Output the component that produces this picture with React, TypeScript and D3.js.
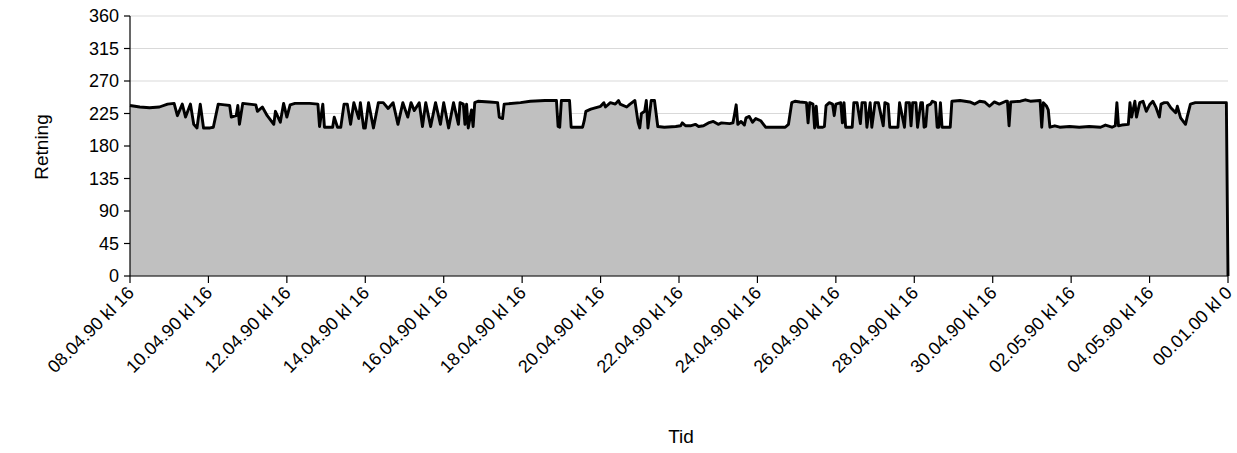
import React from 'react';
import * as d3 from 'd3';

// hours since 08.04.90 kl 16
const hours = [0, 6, 12, 18, 23, 27, 29, 32, 34, 37, 39, 41, 43, 45, 49, 51, 54, 58, 61, 62, 65, 66, 67, 69, 77, 78, 81, 84, 88, 89, 92, 94, 96, 98, 101, 110, 115, 116, 118, 119, 124, 125, 127, 129, 131, 133, 135, 137, 140, 141, 143, 144, 146, 149, 152, 155, 158, 161, 164, 167, 170, 172, 174, 177, 179, 181, 184, 187, 190, 192, 195, 198, 201, 202, 204, 205, 206, 207, 209, 210, 211, 213, 220, 225, 226, 228, 229, 239, 245, 254, 261, 262, 263, 264, 269, 270, 277, 278, 279, 282, 288, 290, 291, 294, 297, 299, 300, 304, 306, 309, 311, 312, 313, 315, 316, 317, 319, 321, 323, 327, 334, 337, 338, 340, 343, 346, 348, 351, 354, 357, 360, 362, 367, 369, 370, 371, 372, 374, 376, 377, 379, 381, 383, 386, 387, 389, 395, 401, 403, 405, 407, 410, 414, 415, 416, 418, 419, 420, 421, 424, 425, 426, 428, 430, 431, 432, 435, 436, 437, 438, 442, 443, 445, 447, 448, 450, 451, 453, 454, 456, 458, 461, 462, 464, 465, 470, 471, 474, 475, 477, 478, 479, 481, 482, 484, 485, 486, 487, 488, 490, 491, 493, 494, 495, 496, 497, 502, 503, 508, 514, 517, 520, 523, 526, 529, 532, 536, 537, 538, 539, 545, 548, 551, 557, 558, 559, 561, 562, 563, 566, 569, 575, 581, 587, 594, 597, 601, 603, 604, 605, 607, 611, 612, 613, 615, 616, 618, 620, 622, 624, 626, 628, 630, 631, 633, 635, 637, 640, 641, 643, 646, 647, 649, 652, 658, 664, 670, 671, 672];

const retning = [236, 234, 233, 234, 238, 239, 222, 238, 220, 238, 210, 205, 238, 205, 205, 206, 238, 237, 236, 220, 222, 236, 210, 239, 237, 228, 234, 222, 210, 228, 213, 239, 220, 237, 239, 239, 238, 207, 238, 206, 206, 220, 206, 206, 238, 238, 210, 240, 218, 240, 205, 205, 240, 205, 240, 240, 232, 240, 210, 240, 220, 240, 229, 240, 207, 240, 207, 240, 210, 240, 205, 240, 210, 240, 238, 210, 238, 205, 230, 207, 240, 242, 241, 240, 220, 218, 238, 240, 242, 243, 243, 207, 206, 243, 243, 206, 206, 215, 228, 231, 235, 240, 234, 240, 238, 243, 238, 234, 238, 243, 212, 205, 225, 228, 243, 205, 243, 243, 207, 206, 207, 208, 212, 208, 208, 210, 207, 208, 212, 214, 210, 212, 211, 212, 224, 237, 210, 214, 209, 219, 221, 213, 218, 215, 212, 206, 206, 206, 210, 240, 242, 241, 240, 212, 240, 238, 205, 235, 206, 206, 207, 236, 240, 238, 222, 238, 240, 212, 240, 206, 206, 240, 240, 211, 240, 240, 206, 240, 206, 240, 240, 208, 240, 238, 206, 206, 240, 206, 240, 240, 208, 240, 240, 206, 240, 240, 206, 207, 236, 238, 242, 240, 206, 206, 240, 206, 206, 242, 243, 241, 238, 242, 241, 235, 241, 238, 242, 242, 208, 241, 242, 244, 242, 243, 206, 240, 235, 230, 206, 208, 206, 207, 206, 207, 206, 209, 206, 208, 240, 208, 209, 210, 240, 220, 242, 220, 240, 242, 228, 237, 242, 233, 220, 238, 240, 240, 233, 226, 235, 219, 210, 220, 238, 240, 240, 240, 240, 240, 0];

const yTicks = [0, 45, 90, 135, 180, 225, 270, 315, 360];
const xTickHours = [0, 48, 96, 144, 192, 240, 288, 336, 384, 432, 480, 528, 576, 624, 672];
const xTickLabels = [
  '08.04.90 kl 16', '10.04.90 kl 16', '12.04.90 kl 16', '14.04.90 kl 16', '16.04.90 kl 16',
  '18.04.90 kl 16', '20.04.90 kl 16', '22.04.90 kl 16', '24.04.90 kl 16', '26.04.90 kl 16',
  '28.04.90 kl 16', '30.04.90 kl 16', '02.05.90 kl 16', '04.05.90 kl 16', '00.01.00 kl 0',
];

const FONT = 'Liberation Sans, Arial, sans-serif';
const FS = 18;
const TITLE_FS = 19;

export default function App() {
  const W = 1237, H = 453;
  const left = 130, right = 1228, top = 16, bottom = 276;
  const x = d3.scaleLinear().domain([0, 672]).range([left, right]);
  const y = d3.scaleLinear().domain([0, 360]).range([bottom, top]);
  const pts: [number, number][] = hours.map((h, i) => [h, retning[i]]);
  const areaPath = d3.area<[number, number]>().x(d => x(d[0])).y0(y(0)).y1(d => y(d[1]))(pts) || '';
  const linePath = d3.line<[number, number]>().x(d => x(d[0])).y(d => y(d[1]))(pts) || '';

  return (
    <svg width={W} height={H} style={{ position: 'absolute', left: 0, top: 0, background: '#fff' }} fontFamily={FONT}>
      <rect x={0} y={0} width={W} height={H} fill="#fff" />
      {yTicks.map(t => (
        <line key={'g' + t} x1={left} x2={right} y1={y(t)} y2={y(t)} stroke="#d9d9d9" strokeWidth={1} />
      ))}
      <path d={areaPath} fill="#c0c0c0" stroke="none" />
      <path d={linePath} fill="none" stroke="#000" strokeWidth={2.9} strokeLinejoin="round" />
      {/* y axis */}
      <line x1={left} x2={left} y1={top} y2={bottom} stroke="#000" strokeWidth={1.2} />
      {yTicks.map(t => (
        <g key={'y' + t}>
          <line x1={left - 6} x2={left} y1={y(t)} y2={y(t)} stroke="#000" strokeWidth={1.2} />
          <text x={left - 11} y={y(t)} dy="0.36em" textAnchor="end" fontSize={FS}>{t}</text>
        </g>
      ))}
      {/* x axis */}
      <line x1={left} x2={right} y1={bottom} y2={bottom} stroke="#000" strokeWidth={1.2} />
      {xTickHours.map((h, i) => (
        <g key={'x' + h}>
          <line x1={x(h)} x2={x(h)} y1={bottom} y2={bottom + 7} stroke="#000" strokeWidth={1.2} />
          <text transform={`translate(${x(h) + 5},${bottom + 18}) rotate(-45)`} textAnchor="end" fontSize={FS}>
            {xTickLabels[i]}
          </text>
        </g>
      ))}
      <text transform={`translate(48,147) rotate(-90)`} textAnchor="middle" fontSize={TITLE_FS}>Retning</text>
      <text x={681} y={443} textAnchor="middle" fontSize={TITLE_FS}>Tid</text>
    </svg>
  );
}
